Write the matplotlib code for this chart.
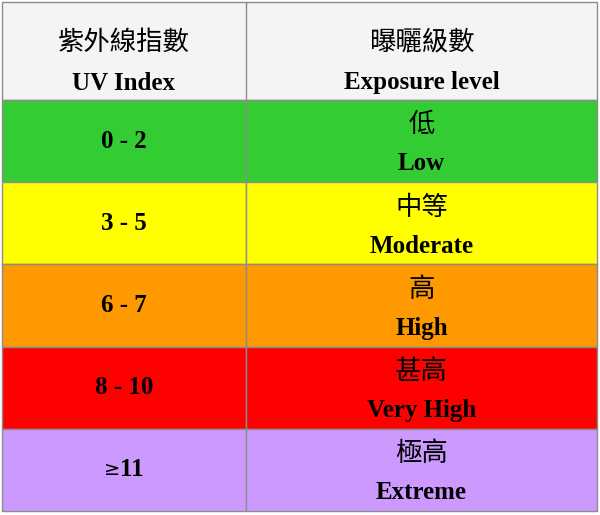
import matplotlib
matplotlib.use("Agg")
import matplotlib.pyplot as plt
from matplotlib.patches import Rectangle

header_zh = ["紫外線指數", "曝曬級數"]
header_en = ["UV Index", "Exposure level"]
uv_index = ["0 - 2", "3 - 5", "6 - 7", "8 - 10", "≥11"]
level_zh = ["低", "中等", "高", "甚高", "極高"]
level_en = ["Low", "Moderate", "High", "Very High", "Extreme"]
row_colors = ["#33cc33", "#ffff00", "#ff9900", "#ff0000", "#cc99ff"]
header_color = "#f4f4f4"

fig = plt.figure(figsize=(6, 5.15), dpi=100)
ax = fig.add_axes([0, 0, 1, 1])
ax.set_xlim(0, 600)
ax.set_ylim(515, 0)
ax.axis("off")

x0, xm, x1 = 2, 246, 597
y_head0, y_head1 = 2, 100
row_h = 82.2
edge = "#8c8c8c"
cjk = ["Noto Sans CJK TC", "DejaVu Sans"]
serif = ["Liberation Serif", "DejaVu Serif"]

ax.add_patch(Rectangle((x0, y_head0), x1 - x0, y_head1 - y_head0, facecolor=header_color, edgecolor=edge, lw=1))
ax.plot([xm, xm], [y_head0, y_head1], color=edge, lw=1)
for cx, zh, en in zip([(x0 + xm) / 2, (xm + x1) / 2], header_zh, header_en):
    ax.text(cx, 42, zh, family=cjk, fontsize=19, ha="center", va="center", color="black")
    ax.text(cx, 83, en, family=serif, fontsize=18, fontweight="bold", ha="center", va="center")

for i, (idx, zh, en, c) in enumerate(zip(uv_index, level_zh, level_en, row_colors)):
    top = y_head1 + i * row_h
    ax.add_patch(Rectangle((x0, top), xm - x0, row_h, facecolor=c, edgecolor=edge, lw=1))
    ax.add_patch(Rectangle((xm, top), x1 - xm, row_h, facecolor=c, edgecolor=edge, lw=1))
    fam = cjk if idx.startswith("≥") else serif
    if idx.startswith("≥"):
        ax.text((x0 + xm) / 2 - 12, top + row_h / 2, "≥", family=["DejaVu Sans"], fontsize=14, ha="center", va="center")
        ax.text((x0 + xm) / 2 + 8, top + row_h / 2, idx[1:], family=serif, fontsize=18, fontweight="bold", ha="center", va="center")
    else:
        ax.text((x0 + xm) / 2, top + row_h / 2, idx, family=serif, fontsize=18, fontweight="bold", ha="center", va="center")
    ax.text((xm + x1) / 2, top + 25, zh, family=cjk, fontsize=19, ha="center", va="center")
    ax.text((xm + x1) / 2, top + 64, en, family=serif, fontsize=18, fontweight="bold", ha="center", va="center")

fig.savefig("out.png", dpi=100, facecolor="white")
